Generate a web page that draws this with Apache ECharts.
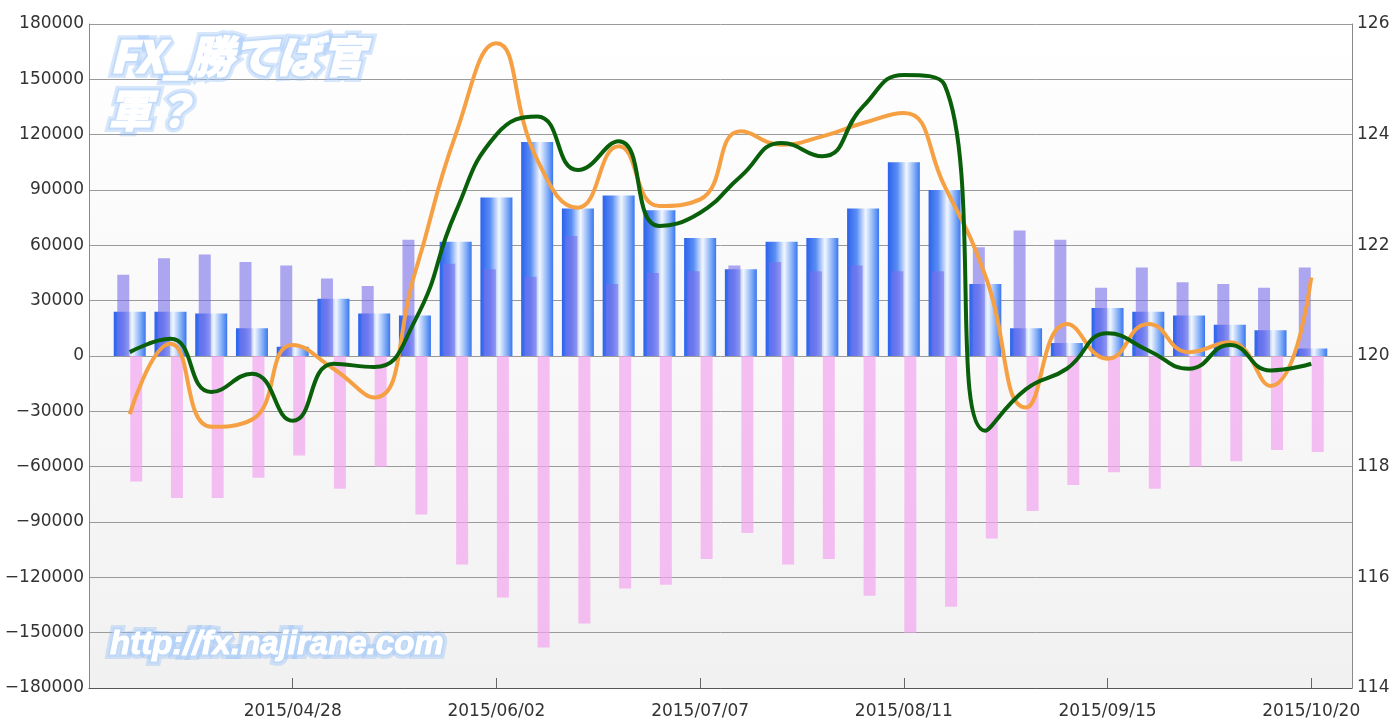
<!DOCTYPE html>
<html>
<head>
<meta charset="utf-8">
<script src="https://cdn.jsdelivr.net/npm/echarts@6/dist/echarts.min.js"></script>
<style>html,body{margin:0;padding:0;background:#fff;}#c{width:1393px;height:720px;}</style>
</head>
<body>
<div id="c"></div>
<script>
const dates = ['2015/03/31','2015/04/07','2015/04/14','2015/04/21','2015/04/28','2015/05/05','2015/05/12','2015/05/19','2015/05/26','2015/06/02','2015/06/09','2015/06/16','2015/06/23','2015/06/30','2015/07/07','2015/07/14','2015/07/21','2015/07/28','2015/08/04','2015/08/11','2015/08/18','2015/08/25','2015/09/01','2015/09/08','2015/09/15','2015/09/22','2015/09/29','2015/10/06','2015/10/13','2015/10/20'];
const netPos = [24000,24000,23000,15000,5000,31000,23000,22000,62000,86000,116000,80000,87000,79000,64000,47000,62000,64000,80000,105000,90000,39000,15000,7000,26000,24000,22000,17000,14000,4000];
const longPos = [44000,53000,55000,51000,49000,42000,38000,63000,50000,47000,43000,65000,39000,45000,46000,49000,51000,46000,49000,46000,46000,59000,68000,63000,37000,48000,40000,39000,37000,48000];
const shortPos = [-68000,-77000,-77000,-66000,-54000,-72000,-60000,-86000,-113000,-131000,-158000,-145000,-126000,-124000,-110000,-96000,-113000,-110000,-130000,-150000,-136000,-99000,-84000,-70000,-63000,-72000,-60000,-57000,-51000,-52000];
const greenLine = [120.07,120.31,119.35,119.68,118.83,119.86,119.8,120.64,122.6,124.0,124.33,123.36,123.88,122.35,122.59,123.25,123.85,123.61,124.51,125.08,124.9,118.65,119.4,119.77,120.41,120.1,119.77,120.2,119.74,119.86];
const orangeLine = [118.95,120.22,118.72,118.85,120.2,119.77,119.25,121.5,124.0,125.65,123.55,122.68,123.79,122.71,122.83,124.06,123.82,123.97,124.21,124.39,123.07,121.45,119.07,120.58,119.95,120.58,120.07,120.25,119.46,121.42];

const pad = arr => [null, ...arr, null];
const cats = ['', ...dates, ''];
const showIdx = (i) => i > 0 && i < cats.length - 1 && (i - 1) % 5 === 4;
const fmt = v => (v < 0 ? '\u2212' + Math.abs(v) : String(v));
const labelFont = {fontFamily: 'DejaVu Sans', fontSize: 17, color: '#333'};

function markText(text, x, y, font, size) {
  const base = {text: text, x: 0, y: 0, align: 'left', verticalAlign: 'top',
    fontFamily: font, fontWeight: 900, fontStyle: 'italic', fontSize: size};
  return [{
    type: 'text', x: x, y: y, z: 98,
    style: Object.assign({}, base, {fill: '#8dbaf5', stroke: '#8dbaf5', lineWidth: 10,
      shadowColor: '#6ea6f3', shadowBlur: 18, opacity: 0.35})
  }, {
    type: 'text', x: x, y: y, z: 99,
    style: Object.assign({}, base, {fill: '#b5d3fa', stroke: '#b5d3fa', lineWidth: 5,
      shadowColor: '#7aaef4', shadowBlur: 8, opacity: 0.6})
  }, {
    type: 'text', x: x, y: y, z: 100,
    style: Object.assign({}, base, {fill: '#ffffff', stroke: '#ffffff', lineWidth: 1})
  }];
}

const chart = echarts.init(document.getElementById('c'), null, {renderer: 'canvas'});
chart.setOption({
  animation: false,
  backgroundColor: '#ffffff',
  grid: {
    left: 89, right: 41, top: 24, bottom: 30,
    show: true, borderWidth: 0,
    backgroundColor: {type: 'linear', x: 0, y: 0, x2: 0, y2: 1,
      colorStops: [{offset: 0, color: '#ffffff'}, {offset: 1, color: '#f1f1f1'}]}
  },
  xAxis: [{
    type: 'category', data: cats, boundaryGap: false,
    axisLine: {onZero: false, lineStyle: {color: '#555', width: 1}},
    axisTick: {show: true, inside: true, length: 10, interval: showIdx, lineStyle: {color: '#666'}},
    axisLabel: Object.assign({interval: showIdx, margin: 15}, labelFont),
    splitLine: {show: false}
  }, {
    type: 'category', data: cats, boundaryGap: false, show: false
  }],
  yAxis: [{
    type: 'value', min: -180000, max: 180000, interval: 30000, position: 'left',
    axisLine: {show: true, lineStyle: {color: '#888'}},
    axisTick: {show: false},
    axisLabel: Object.assign({margin: 5, formatter: fmt}, labelFont),
    splitLine: {show: true, lineStyle: {color: '#9a9a9a', width: 1}}
  }, {
    type: 'value', min: 114, max: 126, interval: 2, position: 'right',
    axisLine: {show: true, lineStyle: {color: '#888'}},
    axisTick: {show: false},
    axisLabel: Object.assign({margin: 5}, labelFont),
    splitLine: {show: false}
  }],
  series: [{
    name: 'net', type: 'bar', xAxisIndex: 0, yAxisIndex: 0, barWidth: 32, z: 2,
    data: pad(netPos),
    itemStyle: {color: {type: 'linear', x: 0, y: 0, x2: 1, y2: 0, colorStops: [
      {offset: 0, color: '#2d62ec'}, {offset: 0.3, color: '#5a8ef4'},
      {offset: 0.58, color: '#f2f7ff'}, {offset: 0.85, color: '#7aa8f6'},
      {offset: 1, color: '#3a76ef'}]}}
  }, {
    name: 'long', type: 'bar', xAxisIndex: 1, yAxisIndex: 0, barWidth: 12, barGap: '8%', z: 3,
    data: pad(longPos),
    itemStyle: {color: 'rgba(120,110,235,0.6)'}
  }, {
    name: 'short', type: 'bar', xAxisIndex: 1, yAxisIndex: 0, barWidth: 12, barGap: '8%', z: 3,
    data: pad(shortPos),
    itemStyle: {color: 'rgba(243,165,240,0.7)'}
  }, {
    name: 'green', type: 'line', xAxisIndex: 0, yAxisIndex: 1, z: 5,
    data: pad(greenLine), smooth: 0.5, showSymbol: false, symbol: 'none',
    lineStyle: {color: '#0a5f0a', width: 4}
  }, {
    name: 'orange', type: 'line', xAxisIndex: 0, yAxisIndex: 1, z: 4,
    data: pad(orangeLine), smooth: 0.5, showSymbol: false, symbol: 'none',
    lineStyle: {color: '#f5a043', width: 4}
  }],
  graphic: [].concat(
    markText('FX_勝てば官', 110, 34, 'Noto Sans CJK JP', 44),
    markText('軍？', 108, 88, 'Noto Sans CJK JP', 44),
    markText('http://fx.najirane.com', 110, 628, 'Liberation Sans', 33)
  )
});
</script>
</body>
</html>
